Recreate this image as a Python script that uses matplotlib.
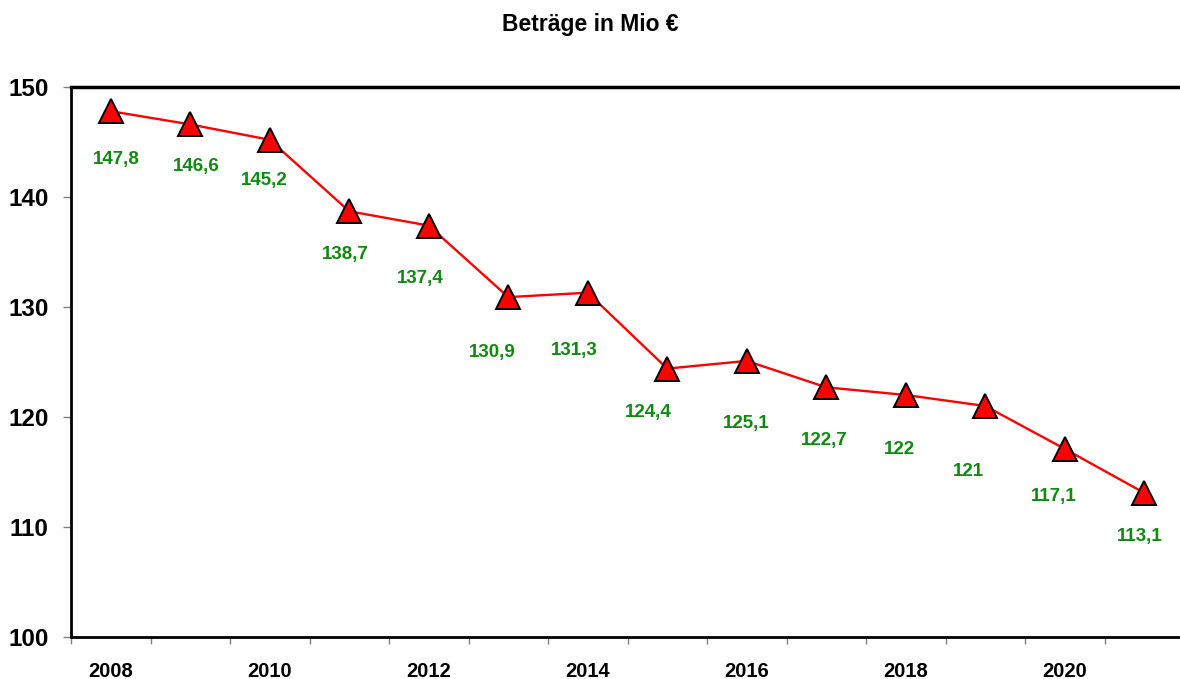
import matplotlib
matplotlib.use("Agg")
import matplotlib.pyplot as plt

years = [2008, 2009, 2010, 2011, 2012, 2013, 2014, 2015, 2016, 2017, 2018, 2019, 2020, 2021]
values = [147.8, 146.6, 145.2, 138.7, 137.4, 130.9, 131.3, 124.4, 125.1, 122.7, 122.0, 121.0, 117.1, 113.1]
value_labels = ["147,8", "146,6", "145,2", "138,7", "137,4", "130,9", "131,3",
                "124,4", "125,1", "122,7", "122", "121", "117,1", "113,1"]
title = "Beträge in Mio €"

# label offsets in pixels (dx, dy) relative to the marker
label_offsets = [(6, -48), (6, -42), (-5, -41), (-4, -43), (-9, -53), (-16, -55), (-13, -58),
                 (-19, -44), (0, -63), (-2, -53), (-6, -55), (-17, -66), (-11, -48), (-4, -44)]

dpi = 100
fig = plt.figure(figsize=(11.8, 6.79), dpi=dpi)
ax = fig.add_axes([71/1180, 1 - 637/679, (1184 - 71)/1180, (637 - 87)/679])

x = list(range(len(years)))
ax.plot(x, values, color="#ff0000", lw=1.7, marker="^", markersize=17,
        markerfacecolor="#ff0000", markeredgecolor="black", markeredgewidth=1.4, zorder=3,
        clip_on=False)

pt = 72 / dpi
for xi, v, lab, (dx, dy) in zip(x, values, value_labels, label_offsets):
    ax.annotate(lab, (xi, v), xytext=(dx * pt, dy * pt), textcoords="offset points",
                ha="center", va="center", color="#108a10", fontsize=13.5,
                fontweight="bold", family="Liberation Sans")

ax.set_xlim(-0.5, len(years) - 0.5)
ax.set_ylim(100, 150)
ax.set_yticks([100, 110, 120, 130, 140, 150])
ax.set_yticklabels(["100", "110", "120", "130", "140", "150"],
                   fontsize=17.5, fontweight="bold", family="Liberation Sans")
ax.set_xticks([i for i in x if years[i] % 2 == 0])
ax.set_xticklabels([str(years[i]) for i in x if years[i] % 2 == 0],
                   fontsize=14.5, fontweight="bold", family="Liberation Sans")
ax.set_xticks([i - 0.5 for i in range(len(years) + 1)], minor=True)
ax.tick_params(axis="x", which="major", length=0, pad=18)
ax.tick_params(axis="x", which="minor", length=5, width=1, color="#808080", direction="out")
ax.tick_params(axis="y", length=6, width=1, color="#808080", direction="out", pad=10)

for s in ["left", "bottom"]:
    ax.spines[s].set_linewidth(2)
    ax.spines[s].set_color("black")
ax.spines["top"].set_linewidth(2.5)
ax.spines["right"].set_visible(False)

fig.text(0.5, 1 - 25/679, title, ha="center", va="center", fontsize=16.5,
         fontweight="bold", family="Liberation Sans")

fig.savefig("out.png", dpi=dpi)
